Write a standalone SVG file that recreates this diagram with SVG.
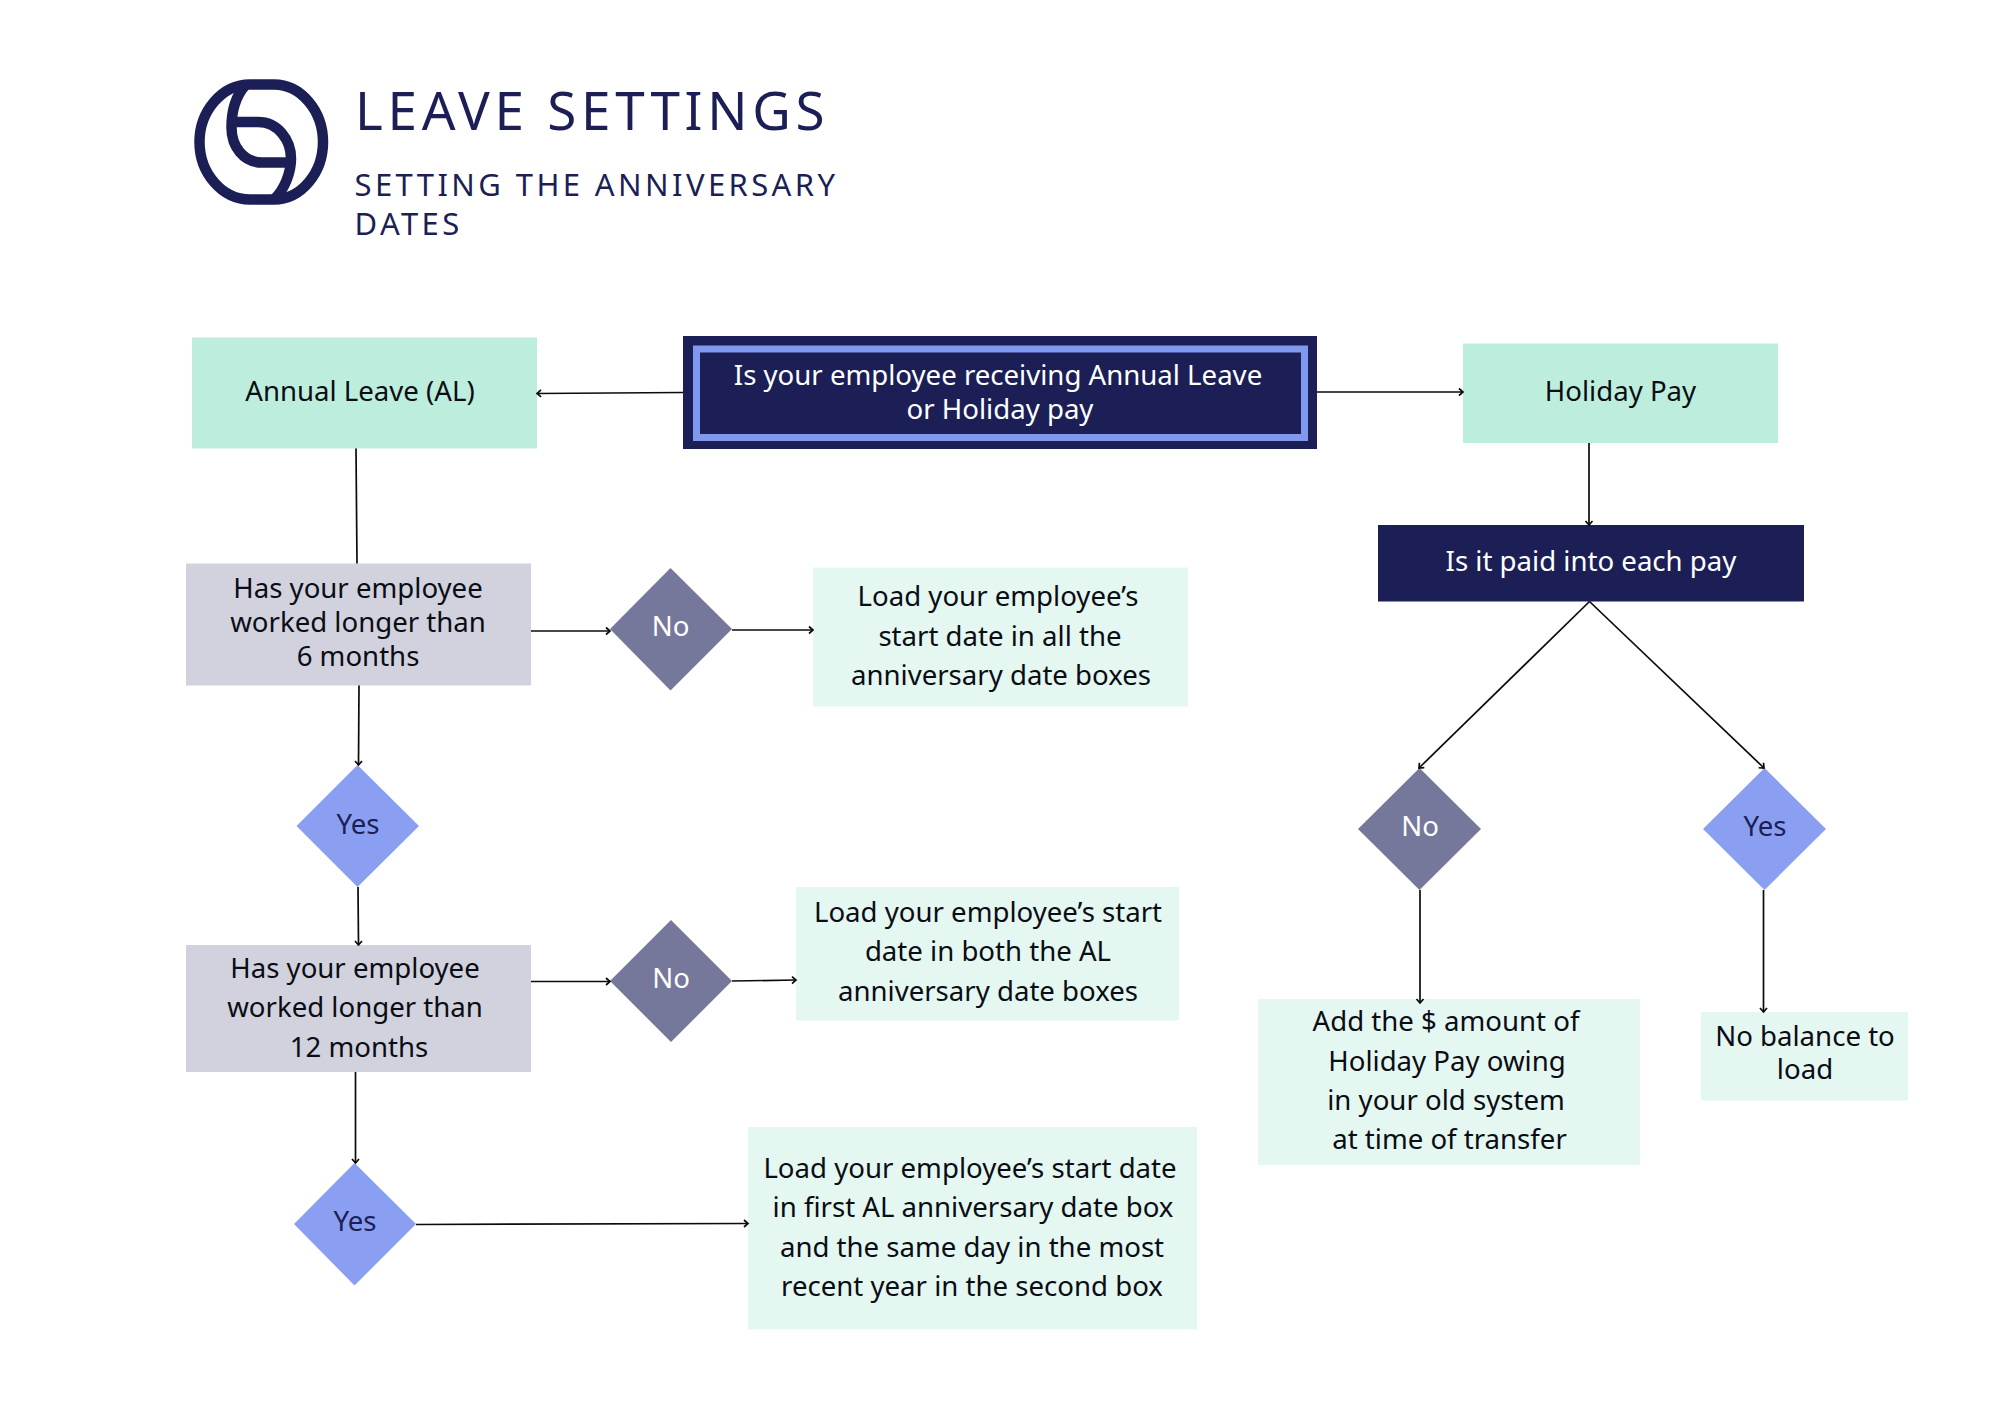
<svg xmlns="http://www.w3.org/2000/svg" width="2000" height="1414" viewBox="0 0 2000 1414">
<style>
text{font-family:"Noto Sans","Open Sans","Liberation Sans",sans-serif;font-size:27.6px;font-weight:400;text-anchor:middle;fill:#0b0d14}
.w{fill:#fff}.n{fill:#1c1f56}
.h{text-anchor:start;fill:#1c1f56}
.mint{fill:#bdeedd}.pale{fill:#e4f7f1}.grey{fill:#d1d2de}.dark{fill:#1c1f56}.no{fill:#75789a}.yes{fill:#8a9ff2}
.c line{stroke:#0b0b0b;stroke-width:1.7;fill:none}
.arrow{marker-end:url(#a)}
</style>
<defs><marker id="a" markerUnits="userSpaceOnUse" markerWidth="12" markerHeight="12" refX="7" refY="5" orient="auto"><path d="M3,1.500 L7,5 L3,8.500" fill="none" stroke="#0b0b0b" stroke-width="1.7"/></marker></defs>
<rect width="2000" height="1414" fill="#fff"/>
<g id="logo" fill="none" stroke="#1c1f56" stroke-width="10.500">
<path d="M250 84.500 L274 84.500 C301 84.500 323 111 323 142 C323 173 301 199.500 274 199.500 L250 199.500 C222 199.500 199.500 173 199.500 142 C199.500 111 222 84.500 250 84.500 Z"/>
<path d="M245 85.500 C236 96 231.500 111 231.500 127.500 C231.500 146 243 162.500 262 162.500 L292 162.500"/>
<path d="M236 122 L258 122 C278 122 291 140 291 158.500 C291 172 285 189 274 199.500"/>
</g>
<g id="title">
<text class="h" x="355" y="130" style="font-size:53px;letter-spacing:4.700px">LEAVE SETTINGS</text>
<text class="h" x="354.500" y="196" style="font-size:31px;letter-spacing:3.400px">SETTING THE ANNIVERSARY</text>
<text class="h" x="354.500" y="235" style="font-size:31px;letter-spacing:3.400px">DATES</text>
</g>
<g id="n-center"><rect class="dark" x="683" y="336" width="634" height="113"/><rect x="696.500" y="349" width="608" height="88.500" fill="none" stroke="#8098ee" stroke-width="7"/>
<text class="w" x="998" y="385">Is your employee receiving Annual Leave</text><text class="w" x="1000" y="418.500">or Holiday pay</text></g>
<g id="n-annual"><rect class="mint" x="192" y="337.500" width="345" height="111"/><text x="360" y="401">Annual Leave (AL)</text></g>
<g id="n-holiday"><rect class="mint" x="1463" y="343.500" width="315" height="99.500"/><text x="1620.500" y="401">Holiday Pay</text></g>
<g id="n-paid"><rect class="dark" x="1378" y="525" width="426" height="76.500"/><text class="w" x="1591" y="571">Is it paid into each pay</text></g>
<g id="n-has6"><rect class="grey" x="186" y="563.500" width="345" height="122"/><text x="358" y="597.500">Has your employee</text><text x="358" y="631.500">worked longer than</text><text x="358" y="665.500">6 months</text></g>
<g id="n-no1"><polygon class="no" points="670.500,568 732,629 670.500,690.500 610,629"/><text class="w" x="670.500" y="636">No</text></g>
<g id="n-load1"><rect class="pale" x="813" y="567.500" width="375" height="139"/><text x="998" y="605.500">Load your employee’s</text><text x="1000" y="645.500">start date in all the</text><text x="1001" y="684.500">anniversary date boxes</text></g>
<g id="n-yes1"><polygon class="yes" points="357.500,765 419,826 357.500,887 296.500,826"/><text class="n" x="358" y="833.500">Yes</text></g>
<g id="n-has12"><rect class="grey" x="186" y="945" width="345" height="127"/><text x="355" y="978">Has your employee</text><text x="355" y="1017">worked longer than</text><text x="359" y="1056.500">12 months</text></g>
<g id="n-no2"><polygon class="no" points="671,920 732,981 671,1042 610,981"/><text class="w" x="671" y="988">No</text></g>
<g id="n-load2"><rect class="pale" x="796" y="887" width="383" height="133.500"/><text x="988" y="922">Load your employee’s start</text><text x="988" y="960.500">date in both the AL</text><text x="988" y="1001">anniversary date boxes</text></g>
<g id="n-yes2"><polygon class="yes" points="354.500,1163 416,1224 354.500,1285.500 294,1224"/><text class="n" x="355" y="1231">Yes</text></g>
<g id="n-load3"><rect class="pale" x="748" y="1127" width="449" height="202.500"/><text x="970" y="1177.500">Load your employee’s start date</text><text x="973" y="1216.500">in first AL anniversary date box</text><text x="972" y="1256.500">and the same day in the most</text><text x="972" y="1295.500">recent year in the second box</text></g>
<g id="n-no3"><polygon class="no" points="1419.500,768 1481,829 1419.500,890 1358,829"/><text class="w" x="1420" y="836">No</text></g>
<g id="n-yes3"><polygon class="yes" points="1764.500,768 1826,829 1764.500,890 1703,829"/><text class="n" x="1765" y="836">Yes</text></g>
<g id="n-add"><rect class="pale" x="1258" y="999" width="382" height="166"/><text x="1446" y="1031">Add the $ amount of</text><text x="1447" y="1071">Holiday Pay owing</text><text x="1446" y="1110">in your old system</text><text x="1449.500" y="1149">at time of transfer</text></g>
<g id="n-none"><rect class="pale" x="1701" y="1012" width="207" height="88.500"/><text x="1805" y="1046">No balance to</text><text x="1805" y="1079">load</text></g>
<g id="connectors" class="c">
<line class="arrow" x1="683" y1="392.500" x2="537" y2="393.500"/>
<line class="arrow" x1="1317" y1="392" x2="1463" y2="392"/>
<line x1="356" y1="448.500" x2="357" y2="563.500"/>
<line class="arrow" x1="359" y1="685.500" x2="358.500" y2="765"/>
<line class="arrow" x1="531" y1="631" x2="610" y2="631"/>
<line class="arrow" x1="732" y1="630" x2="813" y2="630"/>
<line class="arrow" x1="358" y1="887" x2="358.500" y2="945"/>
<line class="arrow" x1="531" y1="981.500" x2="610" y2="981.500"/>
<line class="arrow" x1="732" y1="981" x2="796" y2="980"/>
<line class="arrow" x1="355.500" y1="1072" x2="355.500" y2="1163"/>
<line class="arrow" x1="416" y1="1224.500" x2="748" y2="1223.500"/>
<line class="arrow" x1="1589" y1="443" x2="1589" y2="525"/>
<line class="arrow" x1="1589.500" y1="601.500" x2="1419" y2="768"/>
<line class="arrow" x1="1589.500" y1="601.500" x2="1764" y2="768"/>
<line class="arrow" x1="1420" y1="890" x2="1420" y2="1003"/>
<line class="arrow" x1="1763.500" y1="890" x2="1763.500" y2="1012"/>
</g>
</svg>
